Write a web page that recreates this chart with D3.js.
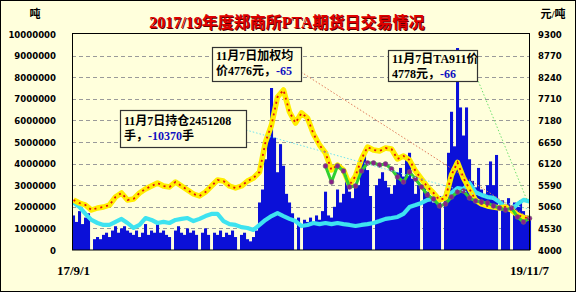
<!DOCTYPE html>
<html><head><meta charset="utf-8">
<script src="https://cdn.jsdelivr.net/npm/d3@7/dist/d3.min.js"></script>
<style>body{margin:0;background:#fff}svg{display:block}</style>
</head><body><svg id="c" width="576" height="292"></svg>
<script>
// ---- data ----
// daily volume (million lots), sampled every ~3 trading days, 17/9/1 .. 19/11/7
const volume = [1.6,1.3,1.8,1.2,1.5,1.7,0,
 0.5,0.6,0.5,0.7,0.8,0.6,0.9,1.1,0.8,1.0,1.1,0.9,0.8,0.7,0.9,0.6,0.8,1.2,0.7,0.9,0.8,1.2,0.8,0.9,0.7,0.6,0,
 0.9,1.1,0.8,0.7,1.0,0.8,0.9,0.7,0,0.8,1.0,0.7,0,
 0.8,0.7,0.9,0.6,0.8,0.7,0.9,0.6,0,0.7,0.8,0.5,0.4,0.6,0.9,
 2.2,2.8,4.2,5.5,7.5,5.2,3.6,4.9,3.9,2.6,2.2,1.7,0,1.5,0,
 1.4,1.3,1.5,1.2,1.6,1.4,
 1.8,2.7,1.6,1.5,2.0,2.8,2.2,2.6,3.5,2.7,2.4,2.9,3.0,4.0,4.4,3.7,2.5,0,
 3.0,3.3,3.6,3.2,2.9,2.6,3.0,3.6,3.8,3.4,4.3,4.5,3.3,2.6,3.0,0,
 2.9,2.7,2.5,2.2,2.4,2.5,0,
 2.7,4.5,6.4,4.8,9.35,6.6,5.3,6.6,4.2,3.2,2.9,3.8,2.8,2.6,3.0,4.1,3.0,4.4,0,
 2.3,2.1,2.4,0,2.2,2.0,2.3,1.8,1.6,1.5];
// open interest (million lots), one value every 2 volume samples
const openInterest = [2.2,1.99,1.67,1.39,1.25,1.16,1.16,1.3,1.44,1.25,
 1.02,1.16,1.48,1.39,1.25,1.3,1.25,1.39,1.44,1.48,
 1.34,1.44,1.57,1.67,1.67,1.34,1.2,1.16,1.06,1.02,
 0.93,1.16,1.39,1.57,1.71,1.57,1.44,1.34,1.11,1.16,
 1.25,1.2,1.25,1.2,1.25,1.2,1.16,1.11,1.16,1.2,
 1.25,1.34,1.44,1.48,1.53,1.67,1.99,2.08,2.18,2.32,
 2.36,2.27,2.5,2.64,2.87,2.82,3.1,2.68,2.55,2.45,
 2.41,2.22,1.94,1.85,2.13,2.32,2.25];
// weighted average price (yuan/t)
const avgPrice = [5227,5153,5104,4981,5031,5055,5104,5300,5399,5227,
 5251,5399,5497,5570,5644,5570,5546,5669,5570,5472,
 5374,5325,5423,5570,5718,5693,5570,5521,5570,5693,
 5767,5914,6650,7067,7754,7926,7386,7116,7362,7239,
 6846,6576,6380,5963,6086,5963,5595,5816,6233,6527,
 6454,6429,6503,6478,6233,6306,6208,5938,5742,5546,
 5399,5227,5276,5840,6150,5767,5497,5227,5129,5080,
 5055,5031,5055,4981,4860,4800,4776];
// TA911 contract price (yuan/t), starts at line sample 42
const ta911Start = 42;
const ta911Price = [6061,5669,6061,5938,5546,5570,5938,6135,6135,6086,
 6110,5988,5791,5669,5914,5742,5546,5350,5251,5080,
 5129,5300,5423,5448,5276,5202,5178,5153,5080,5031,
 4981,5031,4810,4687,4778];
const leftTicks = [0,1000000,2000000,3000000,4000000,5000000,6000000,7000000,8000000,9000000,10000000];
const rightTicks = [4000,4530,5060,5590,6120,6650,7180,7710,8240,8770,9300];
const dateLabels = ["17/9/1","19/11/7"];
const title = "2017/19年度郑商所PTA期货日交易情况";
const notes = [
  {l1:"11月7日持仓2451208", l2a:"手，", l2b:"-10370", l2c:"手"},
  {l1:"11月7日加权均", l2a:"价4776元，", l2b:"-65", l2c:""},
  {l1:"11月7日TA911价", l2a:"4778元，", l2b:"-66", l2c:""}
];

// ---- drawing ----
const svg = d3.select("#c");
const BG = "#FFFFDC";
const X0 = 72, X1 = 529, YT = 34, YB = 250;
svg.append("rect").attr("x",0.5).attr("y",0.5).attr("width",575).attr("height",291)
  .attr("fill",BG).attr("stroke","#000");

const x = d3.scaleLinear().domain([0, volume.length-1]).range([X0+1.5, X1+0.5]);
const yL = d3.scaleLinear().domain([0,10000000]).range([YB,YT]);
const yR = d3.scaleLinear().domain([4000,9300]).range([YB,YT]);

// grid
svg.append("g").selectAll("line").data(leftTicks.slice(1,-1)).join("line")
  .attr("x1",X0).attr("x2",X1).attr("y1",d=>Math.round(yL(d))+0.5).attr("y2",d=>Math.round(yL(d))+0.5)
  .attr("stroke","#9a9a9a").attr("stroke-dasharray","4,3").attr("stroke-width",1);

// volume bars
svg.append("g").selectAll("rect").data(volume).join("rect")
  .attr("x",(d,i)=>x(i)-1.5).attr("width",3.05)
  .attr("y",d=>yL(d*1e6)).attr("height",d=>YB-yL(d*1e6))
  .attr("fill","#0b10d8");

// open interest line
const lineL = d3.line().x((d,i)=>x(i*2)).y(d=>yL(d*1e6));
svg.append("path").attr("d",lineL(openInterest)).attr("fill","none")
  .attr("stroke","#3ee3f0").attr("stroke-width",4.2).attr("stroke-linejoin","round");

// average price line: thick yellow with red markers
const lineP = d3.line().x((d,i)=>x(i*2)).y(d=>yR(d));
svg.append("path").attr("d",lineP(avgPrice)).attr("fill","none")
  .attr("stroke","#ffee00").attr("stroke-width",5.5).attr("stroke-linejoin","round");
svg.append("path").attr("d",lineP(avgPrice)).attr("fill","none")
  .attr("stroke","#e01010").attr("stroke-width",1.8).attr("stroke-dasharray","2,4");

// TA911 line: green with purple markers
const lineT = d3.line().x((d,i)=>x((i+ta911Start)*2)).y(d=>yR(d));
svg.append("path").attr("d",lineT(ta911Price)).attr("fill","none")
  .attr("stroke","#30d030").attr("stroke-width",3).attr("stroke-linejoin","round");
svg.append("g").selectAll("circle").data(ta911Price).join("circle")
  .attr("cx",(d,i)=>x((i+ta911Start)*2)).attr("cy",d=>yR(d)).attr("r",2.4)
  .attr("fill","#8a1f8a").attr("stroke","#6a6a6a").attr("stroke-width",0.6);

// frame
svg.append("rect").attr("x",X0+0.5).attr("y",YT-0.5).attr("width",X1-X0).attr("height",YB-YT+0.5)
  .attr("fill","none").attr("stroke","#000").attr("stroke-width",1);

// axis labels
const numFont = "'DejaVu Sans Condensed','DejaVu Sans',sans-serif";
svg.append("g").selectAll("text").data(leftTicks).join("text")
  .attr("x",56).attr("y",d=>yL(d)+3.5).attr("text-anchor","end")
  .attr("font-family",numFont).attr("font-weight","bold").attr("font-size",9.5).attr("fill","#000")
  .text(d=>d);
svg.append("g").selectAll("text").data(rightTicks).join("text")
  .attr("x",538).attr("y",d=>yR(d)+3.5).attr("text-anchor","start")
  .attr("font-family",numFont).attr("font-weight","bold").attr("font-size",9.5).attr("fill","#000")
  .text(d=>d);

const serif = "'Liberation Serif','Noto Sans CJK SC',serif";
svg.append("text").attr("x",35).attr("y",18).attr("text-anchor","middle")
  .attr("font-family",serif).attr("font-weight","bold").attr("font-size",11).text("吨");
svg.append("text").attr("x",553).attr("y",18).attr("text-anchor","middle")
  .attr("font-family",serif).attr("font-weight","bold").attr("font-size",11).text("元/吨");

svg.append("g").selectAll("text").data(dateLabels).join("text")
  .attr("x",(d,i)=> i===0 ? x(0) : x(volume.length-1)).attr("y",275).attr("text-anchor","middle")
  .attr("font-family",serif).attr("font-weight","bold").attr("font-size",13).text(d=>d);

// title
svg.append("text").attr("x",288).attr("y",29).attr("text-anchor","middle")
  .attr("font-family",serif).attr("font-weight","bold").attr("font-size",16).attr("fill","#5a0000").text(title);
svg.append("text").attr("x",287).attr("y",28).attr("text-anchor","middle")
  .attr("font-family",serif).attr("font-weight","bold").attr("font-size",16).attr("fill","#e00000").text(title);

// pointer lines
const lastI = (volume.length-1);
const ptr = [
  {x1:246,y1:130,x2:x(lastI),y2:yL(openInterest[openInterest.length-1]*1e6)+8,c:"#6fe3ee"},
  {x1:301,y1:72,x2:x(lastI),y2:yR(avgPrice[avgPrice.length-1]),c:"#e07a5a"},
  {x1:477,y1:78,x2:x(lastI)-2,y2:yL(openInterest[openInterest.length-1]*1e6),c:"#70e070"}
];
svg.append("g").selectAll("line").data(ptr).join("line")
  .attr("x1",d=>d.x1).attr("y1",d=>d.y1).attr("x2",d=>d.x2).attr("y2",d=>d.y2)
  .attr("stroke",d=>d.c).attr("stroke-width",1).attr("stroke-dasharray","1.5,2");

// note boxes
const boxes = [
  {x:120,y:110,w:126,h:37},
  {x:212,y:47,w:89,h:34},
  {x:388,y:50,w:89,h:31}
];
boxes.forEach((b,i)=>{
  const g = svg.append("g");
  g.append("rect").attr("x",b.x+0.5).attr("y",b.y+0.5).attr("width",b.w).attr("height",b.h)
    .attr("fill",BG).attr("stroke","#333").attr("stroke-width",1.2);
  const n = notes[i];
  const tx = b.x+4;
  const y1 = i===0 ? b.y+15 : b.y+13;
  const t1 = g.append("text").attr("x",tx).attr("y",y1)
    .attr("font-family",serif).attr("font-weight","bold").attr("font-size",12).text(n.l1);
  const t2 = g.append("text").attr("x",tx).attr("y",y1+15)
    .attr("font-family",serif).attr("font-weight","bold").attr("font-size",12);
  t2.append("tspan").text(n.l2a);
  t2.append("tspan").attr("fill","#1010c0").text(n.l2b);
  if(n.l2c) t2.append("tspan").text(n.l2c);
});
</script></body></html>
